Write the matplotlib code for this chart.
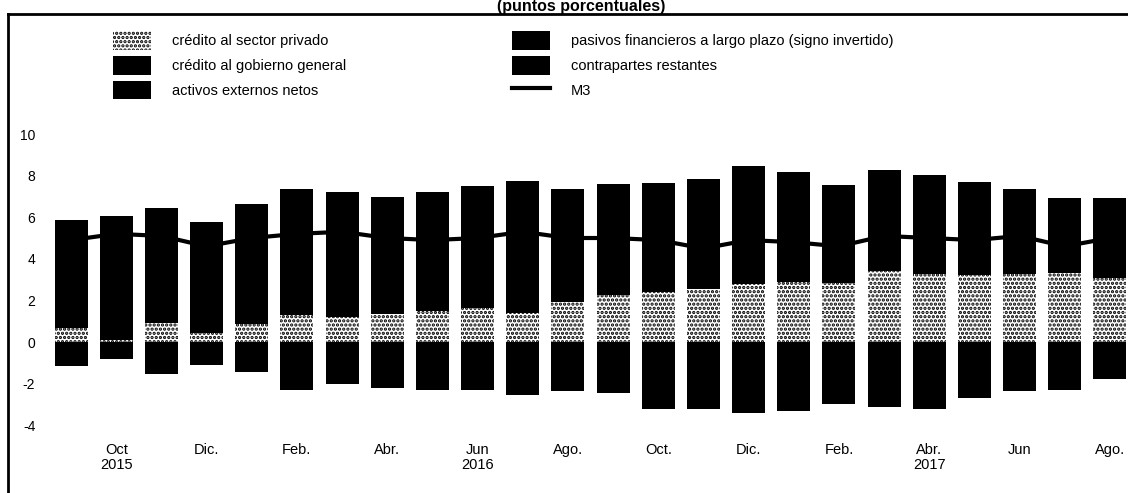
import matplotlib
matplotlib.use("Agg")
import matplotlib.pyplot as plt
import numpy as np
from matplotlib.patches import Patch
from matplotlib.lines import Line2D
from matplotlib import font_manager

names = {f.name for f in font_manager.fontManager.ttflist}
fam = "Liberation Sans Narrow" if "Liberation Sans Narrow" in names else "Liberation Sans"
plt.rcParams["font.family"] = [fam, "DejaVu Sans"]
plt.rcParams["axes.unicode_minus"] = False
plt.rcParams["hatch.linewidth"] = 1.6

# months Sep 2015 .. Aug 2017
months = ["Sep 15", "Oct 15", "Nov 15", "Dic 15", "Ene 16", "Feb 16", "Mar 16", "Abr 16",
          "May 16", "Jun 16", "Jul 16", "Ago 16", "Sep 16", "Oct 16", "Nov 16", "Dic 16",
          "Ene 17", "Feb 17", "Mar 17", "Abr 17", "May 17", "Jun 17", "Jul 17", "Ago 17"]
credito_privado = [0.65, 0.1, 0.9, 0.45, 0.85, 1.3, 1.2, 1.35, 1.5, 1.65, 1.4, 1.9,
                   2.25, 2.4, 2.56, 2.8, 2.87, 2.85, 3.4, 3.25, 3.2, 3.25, 3.3, 3.1]
credito_gobierno = [1.4, 1.5, 1.6, 1.5, 1.7, 1.9, 2.0, 2.1, 2.2, 2.3, 2.5, 2.6,
                    2.7, 2.8, 3.0, 3.2, 3.3, 3.2, 3.4, 3.5, 3.3, 3.1, 2.9, 2.8]
activos_externos = [1.0, 0.9, 0.8, 0.6, 0.5, 0.3, 0.2, -0.3, -0.5, -0.6, -0.8, -0.9,
                    -1.0, -1.4, -1.5, -1.7, -1.6, -1.4, -1.5, -1.6, -1.3, -1.0, -0.9, -0.6]
pasivos_lp = [2.8, 3.55, 3.15, 3.2, 3.6, 3.85, 3.8, 3.5, 3.5, 3.55, 3.85, 2.85,
              2.65, 2.45, 2.3, 2.45, 2.0, 1.5, 1.45, 1.3, 1.2, 1.0, 0.7, 1.0]
restantes = [-1.15, -0.8, -1.55, -1.1, -1.45, -2.3, -2.0, -1.9, -1.8, -1.7, -1.75, -1.45,
             -1.45, -1.8, -1.7, -1.7, -1.7, -1.6, -1.6, -1.6, -1.4, -1.35, -1.4, -1.2]
m3 = [4.9, 5.2, 5.1, 4.6, 5.0, 5.2, 5.3, 5.0, 4.9, 5.0, 5.3, 5.0,
      5.0, 4.9, 4.5, 4.9, 4.8, 4.6, 5.1, 5.0, 4.9, 5.1, 4.6, 5.0]
tick_idx = [1, 3, 5, 7, 9, 11, 13, 15, 17, 19, 21, 23]
tick_labels = ["Oct\n2015", "Dic.", "Feb.", "Abr.", "Jun\n2016", "Ago.",
               "Oct.", "Dic.", "Feb.", "Abr.\n2017", "Jun", "Ago."]
yticks = [-4, -2, 0, 2, 4, 6, 8, 10]

W, H = 1128, 493
fig = plt.figure(figsize=(W / 100, H / 100), dpi=100)
fig.patch.set_facecolor("white")

ax_l, ax_r, ax_t, ax_b = 45, 1128, 30, 435
ax = fig.add_axes([ax_l / W, 1 - ax_b / H, (ax_r - ax_l) / W, (ax_b - ax_t) / H])
ax.set_xlim(-0.576, 23.4)
ax.set_ylim(-4.47, 15.0)
for s in ax.spines.values():
    s.set_visible(False)

x = np.arange(len(months))
wbar = 0.73
blk = "black"

pos = np.zeros(len(x))
neg = np.zeros(len(x))
# private credit: light speckled segment at the base
ax.bar(x, credito_privado, wbar, bottom=pos, color="white", edgecolor="black",
       hatch="....", linewidth=0, zorder=2)
pos += np.array(credito_privado)
ax.bar(x, credito_gobierno, wbar, bottom=pos, color=blk, linewidth=0, zorder=2)
pos += np.array(credito_gobierno)
nea = np.array(activos_externos)
nea_pos = np.where(nea > 0, nea, 0)
nea_neg = np.where(nea < 0, nea, 0)
ax.bar(x, nea_pos, wbar, bottom=pos, color=blk, linewidth=0, zorder=2)
pos += nea_pos
ax.bar(x, nea_neg, wbar, bottom=neg, color=blk, linewidth=0, zorder=2)
neg += nea_neg
ax.bar(x, pasivos_lp, wbar, bottom=pos, color=blk, linewidth=0, zorder=2)
ax.bar(x, restantes, wbar, bottom=neg, color=blk, linewidth=0, zorder=2)
ax.plot(x, m3, color="black", linewidth=3.0, zorder=3)

ax.set_yticks(yticks)
ax.set_yticklabels([str(v) for v in yticks], fontsize=10)
ax.set_xticks(tick_idx)
ax.set_xticklabels(tick_labels, fontsize=10.5, linespacing=1.05)
ax.tick_params(axis="both", length=0)
ax.tick_params(axis="y", pad=7)
ax.tick_params(axis="x", pad=6)

fs = 10.5
h1 = [Patch(facecolor="white", edgecolor="black", hatch="....", linewidth=0),
      Patch(facecolor="black"), Patch(facecolor="black")]
l1 = ["crédito al sector privado", "crédito al gobierno general", "activos externos netos"]
h2 = [Patch(facecolor="black"), Patch(facecolor="black"),
      Line2D([], [], color="black", linewidth=3)]
l2 = ["pasivos financieros a largo plazo (signo invertido)", "contrapartes restantes", "M3"]
common = dict(frameon=False, fontsize=fs, handlelength=2.6, handleheight=1.6,
              handletextpad=1.45, labelspacing=0.42, borderpad=0, borderaxespad=0,
              loc="upper left")
leg1 = fig.legend(h1, l1, bbox_to_anchor=(113 / W, 1 - 31 / H), **common)
leg2 = fig.legend(h2, l2, bbox_to_anchor=(512 / W, 1 - 31 / H), **common)

fig.text(581 / W, 1 - 11 / H, "(puntos porcentuales)", ha="center", va="baseline",
         fontsize=11.5, fontweight="bold")

fig.add_artist(Line2D([8 / W, 1.0], [1 - 14 / H, 1 - 14 / H], color="black",
                      linewidth=2, transform=fig.transFigure))
fig.add_artist(Line2D([8 / W, 8 / W], [1 - 14 / H, 0], color="black",
                      linewidth=2, transform=fig.transFigure))

fig.savefig("out.png", dpi=100, facecolor="white")
